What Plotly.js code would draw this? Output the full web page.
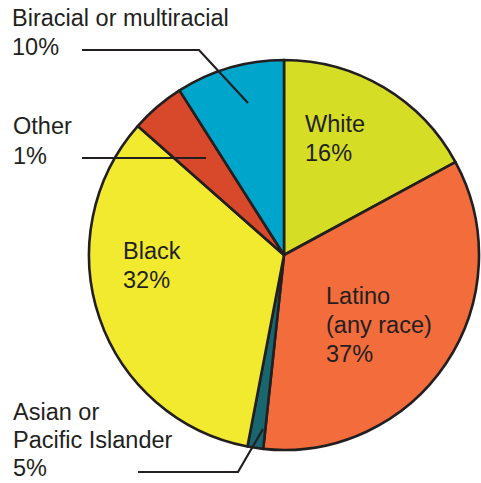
<!DOCTYPE html>
<html>
<head>
<meta charset="utf-8">
<script src="https://cdn.plot.ly/plotly-3.0.1.min.js"></script>
<style>html,body{margin:0;padding:0;background:#fff;}#chart{width:481px;height:483px;}</style>
</head>
<body>
<div id="chart"></div>
<script>
// Data (slice values, clockwise from 12 o'clock)
const categories = ['White', 'Latino (any race)', 'Asian or Pacific Islander', 'Black', 'Other', 'Biracial or multiracial'];
const values = [17.1, 34.6, 1.3, 33.5, 4.5, 9.0];
const percentLabels = ['16%', '37%', '5%', '32%', '1%', '10%'];
const labelLines = [['White'], ['Latino', '(any race)'], ['Asian or', 'Pacific Islander'], ['Black'], ['Other'], ['Biracial or multiracial']];
const colors = ['#d5dd24', '#f26c3c', '#176670', '#f2ea2e', '#d8482a', '#00a5cb'];

const W = 481, H = 483;
const px = x => x / W;
const py = y => 1 - y / H;
const ink = '#231f20';
const fontFam = '"Liberation Sans", Arial, Helvetica, sans-serif';

// label layout: left x and the visual centre y of each text line (pixels)
const labelX = [303, 324, 11, 121, 11, 10];
const lineCenters = [[124, 153], [296, 325, 354], [412, 440, 468], [251, 280], [126, 156], [18, 47]];

const annotations = [];
categories.forEach((c, i) => {
  const lines = labelLines[i].concat([percentLabels[i]]);
  lines.forEach((t, j) => {
    annotations.push({
      xref: 'paper', yref: 'paper',
      x: px(labelX[i]), y: py(lineCenters[i][j] - 15),
      xanchor: 'left', yanchor: 'top', align: 'left',
      showarrow: false,
      text: t,
      font: {family: fontFam, size: 23.5, color: ink}
    });
  });
});

function poly(pts) {
  let d = '';
  pts.forEach((p, i) => { d += (i ? 'L' : 'M') + px(p[0]) + ',' + py(p[1]); });
  return {type: 'path', xref: 'paper', yref: 'paper', path: d, line: {color: ink, width: 2.2}};
}

const shapes = [
  poly([[82, 50], [199, 50], [248, 103]]),
  poly([[82, 158], [206, 158]]),
  poly([[138, 472], [238, 472], [263, 429]])
];

const trace = {
  type: 'pie',
  labels: categories,
  values: values,
  sort: false,
  direction: 'clockwise',
  rotation: 0,
  textinfo: 'none',
  hoverinfo: 'none',
  marker: {colors: colors, line: {color: ink, width: 2.6}},
  domain: {x: [px(89), px(479)], y: [py(450), py(60)]}
};

const layout = {
  width: W, height: H,
  margin: {l: 0, r: 0, t: 0, b: 0},
  showlegend: false,
  paper_bgcolor: '#fff',
  annotations: annotations,
  shapes: shapes
};

Plotly.newPlot('chart', [trace], layout, {displayModeBar: false, staticPlot: true});
</script>
</body>
</html>
